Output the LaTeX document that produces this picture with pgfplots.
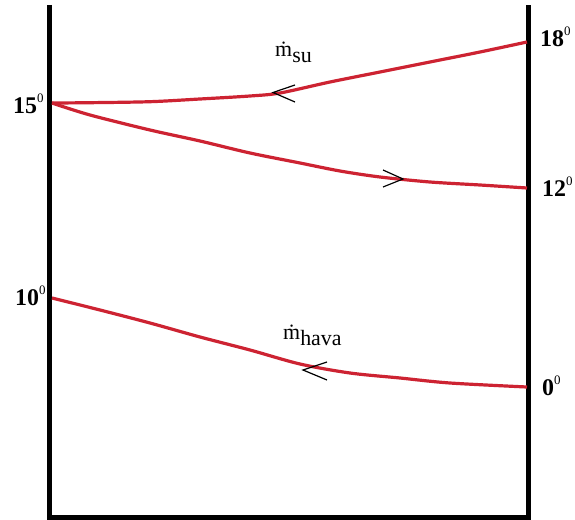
\documentclass[border=0pt]{standalone}
\usepackage{pgfplots}
\pgfplotsset{compat=1.18}
\usepackage{fontspec}
\setmainfont{Liberation Serif}
\definecolor{flow}{RGB}{205,35,50}

\newcommand{\tempdeg}[1]{\textbf{#1}\raisebox{11bp}{\fontsize{13}{13}\selectfont 0}}
\newcommand{\mflow}[1]{\.{m}\raisebox{-6bp}{#1}}

\begin{document}
\begin{tikzpicture}
\begin{axis}[
  scale only axis, width=575bp, height=519bp,
  xmin=0, xmax=575, ymin=0, ymax=519, y dir=reverse,
  hide axis, clip=false,
]
\path (axis cs:0,0) (axis cs:575,519);

% heat exchanger walls
\addplot[black, line width=5bp, line join=miter] coordinates {(49.5,5) (49.5,517) (528,517) (528,5)};

% water stream: 15 -> 18 on the upper branch, 15 -> 12 on the lower branch
\addplot[flow, line width=3.2bp, smooth] coordinates {
  (52,103) (90,102.7) (150,101.7) (200,99) (250,96) (280,93)
  (330,82) (380,72) (430,62) (480,52) (527,42)};
\addplot[flow, line width=3.2bp, smooth] coordinates {
  (52,103) (90,115) (150,130) (200,141) (250,153) (300,163)
  (340,171) (380,177) (430,182) (480,185) (527,188)};
% air stream: 0 -> 10
\addplot[flow, line width=3.2bp, smooth] coordinates {
  (52,298) (100,310) (150,323) (200,337) (250,350) (300,364)
  (350,373) (400,378) (450,383) (527,387)};

% flow direction chevrons
\addplot[black, line width=1.2bp] coordinates {(295,85) (273,92.5) (295,102)};
\addplot[black, line width=1.2bp] coordinates {(383,170) (403,179) (383,187)};
\addplot[black, line width=1.2bp] coordinates {(327,362) (303,370) (327,380)};

% temperatures
\node[anchor=base west, inner sep=0pt, font=\fontsize{24}{28}\selectfont] at (axis cs:13,113) {\tempdeg{15}};
\node[anchor=base west, inner sep=0pt, font=\fontsize{24}{28}\selectfont] at (axis cs:15,305) {\tempdeg{10}};
\node[anchor=base west, inner sep=0pt, font=\fontsize{24}{28}\selectfont] at (axis cs:540,47) {\tempdeg{18}};
\node[anchor=base west, inner sep=0pt, font=\fontsize{24}{28}\selectfont] at (axis cs:542,196) {\tempdeg{12}};
\node[anchor=base west, inner sep=0pt, font=\fontsize{24}{28}\selectfont] at (axis cs:542,395) {\tempdeg{0}};

% mass flow labels
\node[anchor=base west, inner sep=0pt, font=\fontsize{22}{24}\selectfont] at (axis cs:275,57) {\mflow{su}};
\node[anchor=base west, inner sep=0pt, font=\fontsize{22}{24}\selectfont] at (axis cs:283,339) {\mflow{hava}};
\end{axis}
\end{tikzpicture}
\end{document}
